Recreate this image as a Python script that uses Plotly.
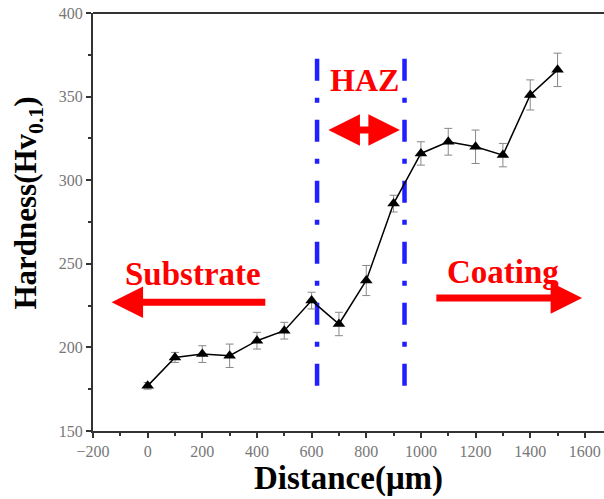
import plotly.graph_objects as go

distance = [0, 100, 200, 300, 400, 500, 600, 700, 800, 900, 1000, 1100, 1200, 1300, 1400, 1500]
hardness = [177, 194, 196, 195, 204, 210, 228, 214, 240, 286, 316, 323, 320, 315, 351, 366]
error = [2, 3, 5, 7, 5, 5, 5, 7, 9, 5, 7, 8, 10, 7, 9, 10]
haz_bounds = [620, 940]

fig = go.Figure()

for xb in haz_bounds:
    fig.add_trace(go.Scatter(x=[xb, xb], y=[177, 375], mode="lines",
                             line=dict(color="#1f1fff", width=4.5, dash="22px,17px,5px,17px"),
                             hoverinfo="skip", showlegend=False))

fig.add_trace(go.Scatter(
    x=distance, y=hardness, mode="lines+markers",
    line=dict(color="black", width=1.5),
    marker=dict(symbol="triangle-up", size=11, color="black"),
    error_y=dict(type="data", array=error, color="#888", thickness=1, width=4),
    showlegend=False))

font_serif = "Liberation Serif, Times New Roman, serif"

fig.add_annotation(x=795, y=360, text="<b>HAZ</b>", showarrow=False,
                   font=dict(family=font_serif, size=32, color="red"))
fig.add_annotation(x=165, y=244, text="<b>Substrate</b>", showarrow=False,
                   font=dict(family=font_serif, size=33, color="red"))
fig.add_annotation(x=1300, y=245, text="<b>Coating</b>", showarrow=False,
                   font=dict(family=font_serif, size=33, color="red"))

# y-axis title as annotation for exact placement
fig.add_annotation(xref="paper", yref="y", x=0, y=286, xshift=-65, textangle=-90,
                   xanchor="center", yanchor="middle", showarrow=False,
                   text="<b>Hardness(Hv<sub>0.1</sub>)</b>",
                   font=dict(family=font_serif, size=31, color="black"))

arrow_style = dict(showarrow=True, arrowhead=2, arrowsize=0.9, arrowwidth=7,
                   arrowcolor="red", xref="x", yref="y", axref="x", ayref="y",
                   text="", startstandoff=0, standoff=0)
# HAZ double arrow
fig.add_annotation(x=923, y=330, ax=656, ay=330, arrowside="end+start", **arrow_style)
# Substrate arrow
fig.add_annotation(x=-132, y=227, ax=436, ay=227, **arrow_style)
# Coating arrow
fig.add_annotation(x=1590, y=229.5, ax=1051, ay=229.5, **arrow_style)

fig.add_shape(type="line", xref="paper", yref="paper", x0=0, x1=1, y0=1, y1=1,
              line=dict(color="#333", width=2))

fig.update_xaxes(range=[-200, 1670], tickvals=list(range(-200, 1700, 200)),
                 ticks="outside", ticklen=5, tickcolor="#333", tickwidth=1.5,
                 minor=dict(dtick=100, ticks="outside", ticklen=3, tickcolor="#333"),
                 showline=True, linecolor="#333", linewidth=2, showgrid=False, zeroline=False,
                 tickfont=dict(family=font_serif, size=16, color="#777"),
                 automargin=False, ticklabeloverflow="allow",
                 title=dict(text="<b>Distance(μm)</b>", standoff=6,
                            font=dict(family=font_serif, size=33, color="black")))
fig.update_yaxes(range=[150, 400], tickvals=[150, 200, 250, 300, 350, 400],
                 ticks="outside", ticklen=5, tickcolor="#333", tickwidth=1.5,
                 minor=dict(dtick=25, ticks="outside", ticklen=3, tickcolor="#333"),
                 showline=True, linecolor="#333", linewidth=2, showgrid=False, zeroline=False,
                 tickfont=dict(family=font_serif, size=16, color="#777"),
                 automargin=False, ticklabeloverflow="allow")

fig.update_layout(width=604, height=499, margin=dict(l=93, r=0, t=13, b=68),
                  plot_bgcolor="white", paper_bgcolor="white")

fig.write_html("out.html", config={"displayModeBar": False},
               post_script="document.body.style.margin='0';document.body.style.overflow='hidden';")
